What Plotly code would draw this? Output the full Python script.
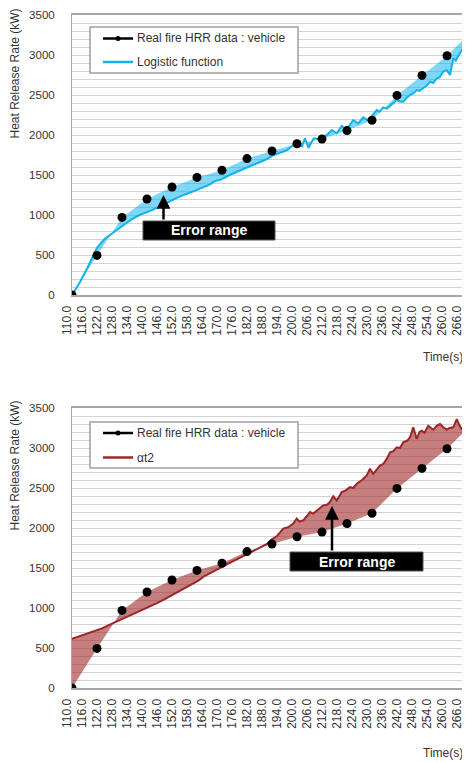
import plotly.graph_objects as go

# ---------------- data ----------------
dot_t = [110, 120, 130, 140, 150, 160, 170, 180, 190, 200, 210, 220, 230, 240, 250, 260, 270]
dot_hrr = [0, 495, 970, 1200, 1350, 1470, 1560, 1705, 1800, 1890, 1950, 2055, 2185, 2495, 2745, 2990, 3300]

logistic_t = [110, 113, 116, 120, 123, 127, 131, 134, 137, 142, 147, 153, 158, 163, 165, 167, 170,
              173, 176, 179, 182, 185, 188, 190, 192, 194.5, 196, 198.5, 200, 202, 203.2, 204.6,
              206.7, 208.5, 210.5, 212, 213.9, 215.9, 217.9, 219.9, 221, 222.5, 224.5, 226.5, 228,
              229.2, 230.5, 231.9, 233, 234.5, 236, 237.2, 238.5, 239.9, 241, 242.5, 244, 245.2,
              246.5, 247.9, 249, 250.5, 252, 253.2, 254.5, 255.9, 257, 258.5, 259.9, 261.2, 262.5,
              263.5, 264.5, 265.9, 267, 267.9, 269.2]
logistic_hrr = [0, 150, 330, 590, 700, 790, 890, 950, 1000, 1060, 1140, 1230, 1290, 1350, 1380, 1420, 1450,
                1500, 1540, 1580, 1620, 1655, 1700, 1740, 1765, 1792, 1810, 1875, 1880, 1860, 1958, 1840,
                1958, 1950, 1979, 2000, 2062, 2020, 2112, 2062, 2120, 2187, 2146, 2221, 2190,
                2208, 2260, 2312, 2290, 2346, 2330, 2362, 2400, 2437, 2420, 2417, 2470, 2500,
                2520, 2562, 2550, 2583, 2620, 2667, 2650, 2708, 2720, 2792, 2810, 2750, 2958,
                2930, 2979, 3062, 3030, 3042, 3125]

at2_t = [110, 114, 118, 122, 126, 130, 134, 137, 140.7, 144, 147.3, 150, 154, 157, 160.7, 163, 166, 168,
         170, 172.5, 175.3, 178, 182, 184, 186, 188, 190, 192, 194.5, 196.5, 198.5, 199.9, 201, 202.5,
         204, 205.2, 206.5, 207.9, 209, 210.5, 212, 213.2, 214.5, 215.9, 217.9, 219.5, 221.2, 222.5,
         223.9, 226, 227.9, 229.2, 230.5, 232, 233.2, 234.5, 235.9, 237.2, 238.5, 239.9, 241.2, 242.5,
         244, 245.2, 246.5, 247.9, 249, 249.9, 251, 252.5, 253.5, 254.5, 256, 257.2, 258.5, 259.9, 261,
         262.5, 263.9, 265, 265.9, 267.9, 269.2]
at2_hrr = [615, 660, 705, 745, 805, 860, 913, 960, 1008, 1060, 1115, 1160, 1224, 1275, 1345, 1400, 1452, 1480,
           1515, 1555, 1598, 1640, 1701, 1735, 1770, 1800, 1860, 1900, 1992, 2010, 2055, 2117, 2080, 2096,
           2150, 2199, 2180, 2220, 2250, 2283, 2290, 2324, 2398, 2345, 2449, 2470, 2511, 2500,
           2553, 2600, 2656, 2740, 2677, 2740, 2781, 2800, 2864, 2947, 2960, 3009, 3000, 3071,
           3090, 3133, 3258, 3113, 3200, 3217, 3190, 3279, 3250, 3229, 3280, 3300, 3260, 3229, 3250,
           3258, 3362, 3280, 3238, 3258, 3320]

x_tick_labels = ["110.0", "116.0", "122.0", "128.0", "134.0", "140.0", "146.0", "152.0", "158.0",
                 "164.0", "170.0", "176.0", "182.0", "188.0", "194.0", "200.0", "206.0", "212.0",
                 "218.0", "224.0", "230.0", "236.0", "242.0", "248.0", "254.0", "260.0", "266.0"]
y_tick_labels = ["0", "500", "1000", "1500", "2000", "2500", "3000", "3500"]

legend_dots = "Real fire HRR data : vehicle"
legend_logistic = "Logistic function"
legend_at2 = "αt2"
y_title = "Heat Release Rate (kW)"
x_title = "Time(s)"
err_text = "Error range"

# ---------------- layout constants ----------------
OFF = 8                      # default page margin of the html body
PAGE_W, PAGE_H = 470, 763
W, H = PAGE_W - OFF, PAGE_H - OFF
PLOT_L, PLOT_R, PLOT_T, PLOT_B = 72, 470, 15, 688   # page pixels of plot area
ML = PLOT_L - OFF
MT = PLOT_T - OFF
MR = 0
MB = PAGE_H - PLOT_B
PW = W - ML - MR
PH = H - MT - MB
PX_PER_S = 2.5
XR = [110, 110 + PW / PX_PER_S]

def fx(px):
    return (px - PLOT_L) / PW

def fy(py):
    return (PLOT_B - py) / PH

FONT = "Liberation Sans, Arial, sans-serif"
TXT = "#333333"
CYAN = "#12B2EA"
CYAN_FILL = "rgba(0,176,240,0.5)"
RED = "#9E2628"
RED_FILL = "rgba(160,40,40,0.6)"

fig = go.Figure()

# ---- top chart ----
fig.add_trace(go.Scatter(
    x=dot_t + logistic_t[::-1], y=dot_hrr + logistic_hrr[::-1],
    fill="toself", fillcolor=CYAN_FILL, line=dict(width=0), mode="lines",
    hoverinfo="skip", showlegend=False, xaxis="x", yaxis="y"))
fig.add_trace(go.Scatter(x=logistic_t, y=logistic_hrr, mode="lines",
                         line=dict(color=CYAN, width=2), showlegend=False, xaxis="x", yaxis="y"))
fig.add_trace(go.Scatter(x=dot_t, y=dot_hrr, mode="markers",
                         marker=dict(color="#000000", size=9), showlegend=False, xaxis="x", yaxis="y"))

# ---- bottom chart ----
fig.add_trace(go.Scatter(
    x=dot_t + at2_t[::-1], y=dot_hrr + at2_hrr[::-1],
    fill="toself", fillcolor=RED_FILL, line=dict(width=0), mode="lines",
    hoverinfo="skip", showlegend=False, xaxis="x2", yaxis="y2"))
fig.add_trace(go.Scatter(x=at2_t, y=at2_hrr, mode="lines",
                         line=dict(color=RED, width=2), showlegend=False, xaxis="x2", yaxis="y2"))
fig.add_trace(go.Scatter(x=dot_t, y=dot_hrr, mode="markers",
                         marker=dict(color="#000000", size=9), showlegend=False, xaxis="x2", yaxis="y2"))

top_dom = [fy(295), fy(15)]
bot_dom = [fy(688), fy(408)]

tickvals_x = [float(s) for s in x_tick_labels]
tickvals_y = [float(s) for s in y_tick_labels]

def xaxis(anchor):
    return dict(range=XR, anchor=anchor, domain=[0, 1], tickmode="array", tickvals=tickvals_x,
                ticktext=x_tick_labels, tickangle=-90, ticks="", showgrid=False, zeroline=False,
                showline=True, linecolor="#A6A6A6", linewidth=2, mirror=True,
                tickfont=dict(family=FONT, size=12, color=TXT), ticklabelshift=-5,
                ticklabelstandoff=4)

def yaxis(anchor, dom):
    return dict(range=[0, 3500], anchor=anchor, domain=dom, tickmode="array", tickvals=tickvals_y,
                ticktext=y_tick_labels, ticks="", showgrid=True, gridcolor="#D3D3D3", gridwidth=1,
                minor=dict(dtick=100, showgrid=True, gridcolor="#D3D3D3", gridwidth=1),
                zeroline=False, showline=True, linecolor="#A6A6A6", linewidth=1,
                tickfont=dict(family=FONT, size=11.5, color=TXT), ticklabelstandoff=14)

shapes = []
annotations = []

def legend(top, bottom, items):
    shapes.append(dict(type="rect", xref="paper", yref="paper", x0=fx(90), x1=fx(298),
                       y0=fy(bottom), y1=fy(top), line=dict(color="#A0A0A0", width=1.5),
                       fillcolor="white", layer="above"))
    for (py, kind, color, text) in items:
        shapes.append(dict(type="line", xref="paper", yref="paper", x0=fx(103), x1=fx(133),
                           y0=fy(py), y1=fy(py), line=dict(color=color, width=2.5), layer="above"))
        if kind == "marker":
            shapes.append(dict(type="circle", xref="paper", yref="paper", x0=fx(115.5), x1=fx(120.5),
                               y0=fy(py + 2.5), y1=fy(py - 2.5), fillcolor=color,
                               line=dict(color=color, width=0), layer="above"))
        annotations.append(dict(text=text, xref="paper", yref="paper", x=fx(135), y=fy(py),
                                xanchor="left", yanchor="middle", showarrow=False,
                                font=dict(family=FONT, size=12, color=TXT)))

legend(27, 73, [(38.5, "marker", "#000000", legend_dots), (62, "line", CYAN, legend_logistic)])
legend(422, 468, [(433, "marker", "#000000", legend_dots), (457.5, "line", RED, legend_at2)])

def err_box(x0, x1, y0, y1, ax_px, ay_head):
    shapes.append(dict(type="rect", xref="paper", yref="paper", x0=fx(x0), x1=fx(x1),
                       y0=fy(y1), y1=fy(y0), fillcolor="black", line=dict(color="#555", width=1),
                       layer="above"))
    annotations.append(dict(text=err_text, xref="paper", yref="paper", x=fx((x0 + x1) / 2),
                            y=fy((y0 + y1) / 2), xanchor="center", yanchor="middle", showarrow=False,
                            font=dict(family=FONT, size=14, color="white", weight="bold")))
    annotations.append(dict(text="", xref="paper", yref="paper", x=fx(ax_px), y=fy(ay_head),
                            showarrow=True, axref="pixel", ayref="pixel", ax=0, ay=(y0 - ay_head),
                            arrowhead=2, arrowsize=1.1, arrowwidth=2.5, arrowcolor="black",
                            standoff=0, startstandoff=0))

err_box(143, 275, 221, 240, 163.5, 195)
err_box(290, 423, 552, 571, 332, 506)

for cy in (73.5, 465.5):
    annotations.append(dict(text=y_title, xref="paper", yref="paper", x=fx(14), y=fy(cy),
                            xanchor="center", yanchor="middle", textangle=-90, showarrow=False,
                            font=dict(family=FONT, size=12, color=TXT)))
for cy in (357, 753):
    annotations.append(dict(text=x_title, xref="paper", yref="paper", x=fx(443), y=fy(cy),
                            xanchor="center", yanchor="middle", showarrow=False,
                            font=dict(family=FONT, size=12, color=TXT)))

fig.update_layout(
    width=W, height=H, margin=dict(l=ML, r=MR, t=MT, b=MB, pad=0),
    paper_bgcolor="white", plot_bgcolor="white", showlegend=False,
    xaxis=xaxis("y"), yaxis=yaxis("x", top_dom),
    xaxis2=xaxis("y2"), yaxis2=yaxis("x2", bot_dom),
    shapes=shapes, annotations=annotations,
    font=dict(family=FONT, color=TXT),
)

fig.write_html("out.html")
